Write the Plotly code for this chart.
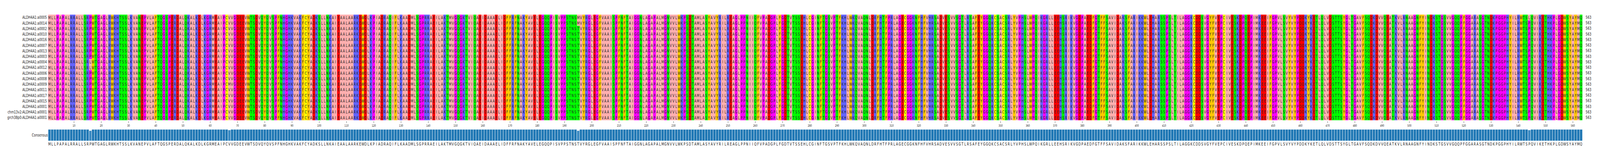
import plotly.graph_objects as go

# ALDH4A1 isoforms, 563 residues
ref_seq = ("MLLPAPALRRALLSRPWTGAGLRWKHTSSLKVANEPVLAFTQGSPERDALQKALKDLKGRMEAIPCVVGDEEVWTSDVQYQVSPFNHGHKVAKFCYADKSLLNKAIEAALAARKEWDLKPIADRAQIFLKAADMLSGPRRAEILAKTMVGQGKTVIQAEIDAAAELIDFFRFNAKYAVELEGQQPISVPPSTNSTVYRGLEGFVAAISPFNFTAIGGNLAGAPALMGNVVLWKPSDTAMLASYAVYRILREAGLPPNIIQFVPADGPLFGDTVTSSEHLCGINFTGSVPTFKHLWKQVAQNLDRFHTFPRLAGECGGKNFHFVHRSADVESVVSGTLRSAFEYGGQKCSACSRLYVPHSLWPQIKGRLLEEHSRIKVGDPAEDFGTFFSAVIDAKSFARIKKWLEHARSSPSLTILAGGKCDDSVGYFVEPCIVESKDPQEPIMKEEIFGPVLSVYVYPDDKYKETLQLVDSTTSYGLTGAVFSQDKDVVQEATKVLRNAAGNFYINDKSTGSVVGQQPFGGARASGTNDKPGGPHYILRWTSPQVIKETHKPLGDWSYAYMQ")

names = ["ALDH4A1:a0005", "ALDH4A1:a0014", "ALDH4A1:a0002", "ALDH4A1:a0010",
         "ALDH4A1:a0016", "ALDH4A1:a0007", "ALDH4A1:a0013", "ALDH4A1:a0003",
         "ALDH4A1:a0004", "ALDH4A1:a0012", "ALDH4A1:a0006", "ALDH4A1:a0008",
         "ALDH4A1:a0009", "ALDH4A1:a0011", "ALDH4A1:a0017", "ALDH4A1:a0015",
         "ALDH4A1:a0001", "chm13v2:ALDH4A1:a0001", "grch38p0:ALDH4A1:a0001"]

# (row, position, residue)
variants = [(8, 16, "L"), (9, 16, "L"), (12, 67, "M"),
            (0, 195, "M"), (1, 195, "M"), (0, 544, "L")]

seq_lengths = [563] * len(names)

groups = {"AILMV": 0, "FWY": 1, "KRH": 2, "DE": 3, "STNQ": 4, "PG": 5, "C": 6}
group_colors = ["#ffafaf", "#ffc800", "#6464ff", "#ff0000", "#00ff00", "#ff00ff", "#ffff00"]

rows = []
for i in range(len(names)):
    s = list(ref_seq)
    for r, p, aa in variants:
        if r == i:
            s[p - 1] = aa
    rows.append(s)

def grp(aa):
    for k, v in groups.items():
        if aa in k:
            return v
    return 0

z = [[grp(a) for a in s] for s in rows]
positions = list(range(1, len(ref_seq) + 1))

# consensus + conservation
consensus = []
conservation = []
for j in range(len(ref_seq)):
    col = [s[j] for s in rows]
    top = max(set(col), key=col.count)
    consensus.append(top)
    conservation.append(col.count(top) / len(col))

n = len(group_colors)
cscale = []
for k, c in enumerate(group_colors):
    cscale.append([k / n, c])
    cscale.append([(k + 1) / n, c])

fig = go.Figure()
fig.add_trace(go.Heatmap(
    z=z, x=positions, y=names, text=rows, texttemplate="%{text}",
    textfont=dict(size=11, color="#222222", family="DejaVu Sans"),
    colorscale=cscale, zmin=-0.5, zmax=n - 0.5, showscale=False,
    hoverinfo="skip", xaxis="x", yaxis="y"))

bar_colors = ["#1f77b4" if c == 1 else "#3a89c1" for c in conservation]
fig.add_trace(go.Bar(x=positions, y=conservation, marker=dict(color=bar_colors, line=dict(color="white", width=0.8)),
                     width=1.0, xaxis="x2", yaxis="y2", hoverinfo="skip"))

for name, ln in zip(names, seq_lengths):
    fig.add_annotation(x=1.0, xref="paper", y=name, yref="y", text=str(ln), showarrow=False,
                       xanchor="left", xshift=10, font=dict(size=11, color="#222222"))

fig.update_layout(
    width=5918, height=409, margin=dict(l=178, r=65, t=36, b=49),
    plot_bgcolor="white", paper_bgcolor="white", showlegend=False,
    font=dict(family="DejaVu Sans", color="#222222"),
    xaxis=dict(range=[0.5, len(ref_seq) + 0.5], tickvals=list(range(10, len(ref_seq) + 1, 10)), ticks="outside", ticklen=4,
               tickfont=dict(size=8), showgrid=False, zeroline=False, anchor="y"),
    yaxis=dict(domain=[0.157, 1], autorange="reversed", tickfont=dict(size=11), showgrid=False,
               ticks="", ticklabelstandoff=4),
    xaxis2=dict(range=[0.5, len(ref_seq) + 0.5], tickvals=positions, ticktext=consensus, ticks="", anchor="y2",
                tickfont=dict(size=11), showgrid=False, zeroline=False, tickangle=0),
    yaxis2=dict(domain=[0, 0.09], range=[0, 1], tickvals=[0.5], ticktext=["Consensus"],
                tickfont=dict(size=11), showgrid=False, zeroline=False, ticks=""),
)

# the browser window is narrower than the figure: squeeze it horizontally to fit
fit_js = """
var gd = document.getElementById('{plot_id}');
var k = window.innerWidth / 5918;
if (k < 1) {
  document.body.style.margin = '0';
  document.body.style.overflow = 'hidden';
  gd.style.transformOrigin = '0 0';
  gd.style.transform = 'scale(' + k + ', 1)';
}
"""
fig.write_html("out.html", config={"displayModeBar": False}, post_script=fit_js)
